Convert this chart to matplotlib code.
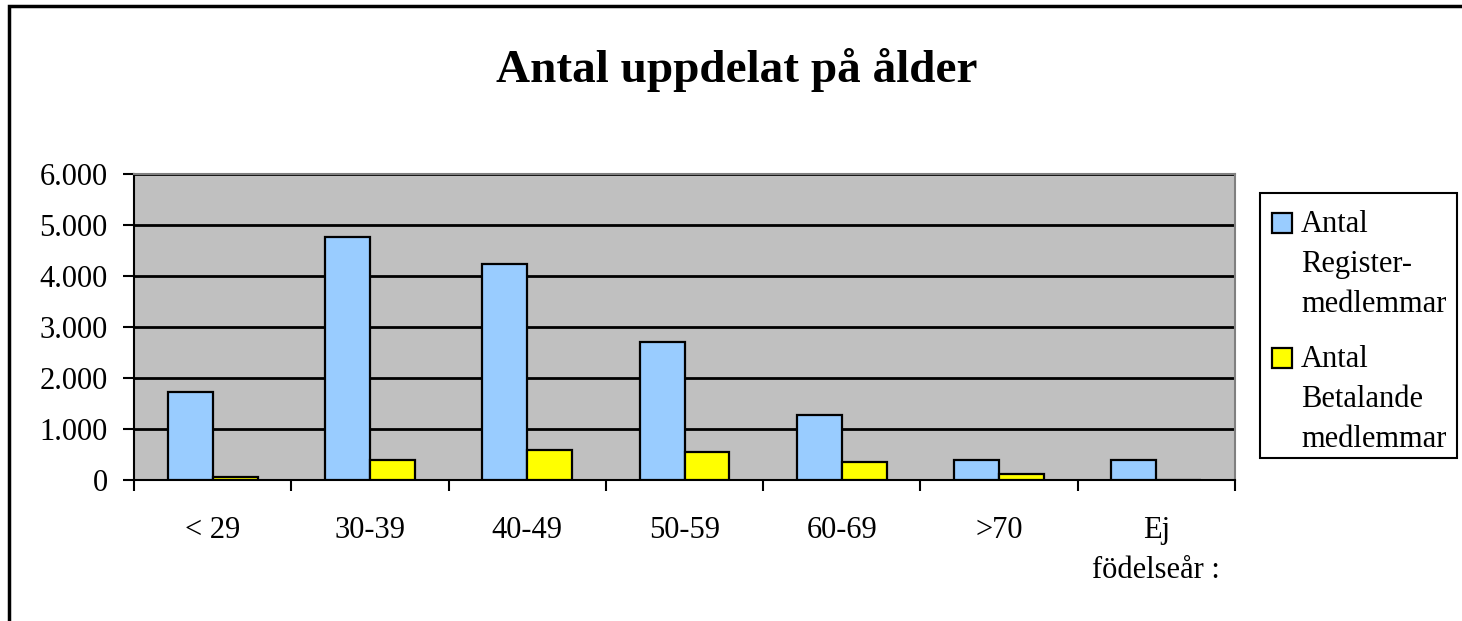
import matplotlib
matplotlib.use("Agg")
import matplotlib.pyplot as plt
import numpy as np
from matplotlib.patches import Rectangle
from matplotlib.legend_handler import HandlerPatch

categories = ["< 29", "30-39", "40-49", "50-59", "60-69", ">70", "Ej\nfödelseår :"]
register = [1720, 4770, 4230, 2700, 1280, 390, 390]
betalande = [50, 390, 590, 540, 350, 110, 0]
series_names = ["Antal\nRegister-\nmedlemmar", "Antal\nBetalande\nmedlemmar"]
yticks = [0, 1000, 2000, 3000, 4000, 5000, 6000]
ytick_labels = ["0", "1.000", "2.000", "3.000", "4.000", "5.000", "6.000"]
title = "Antal uppdelat på ålder"

plt.rcParams["font.family"] = ["Liberation Serif", "DejaVu Serif"]

W, H = 1462, 621
fig = plt.figure(figsize=(W / 100, H / 100), dpi=100)

# outer chart border (clipped at right/bottom)
fig.patches.append(Rectangle((9 / W, 0 - 0.05), 1.1, 1 - 6 / H + 0.05, transform=fig.transFigure,
                             fill=False, edgecolor="black", linewidth=2.5))

ax = fig.add_axes([134 / W, 1 - 480 / H, (1235 - 134) / W, (480 - 174) / H])
ax.set_facecolor("#c0c0c0")

x = np.arange(len(categories))
w = 1 / 3.5
b1 = ax.bar(x - w / 2, register, width=w, color="#99ccff", edgecolor="black", linewidth=1.6, zorder=3,
            label=series_names[0])
b2 = ax.bar(x + w / 2, betalande, width=w, color="#ffff00", edgecolor="black", linewidth=1.6, zorder=3,
            label=series_names[1])

ax.set_xlim(-0.5, len(categories) - 0.5)
ax.set_ylim(0, 6000)
ax.set_yticks(yticks)
ax.set_yticklabels(ytick_labels, fontsize=22)
ax.yaxis.grid(True, color="black", linewidth=2, zorder=1)
ax.set_axisbelow(True)

ax.set_xticks(np.arange(len(categories) + 1) - 0.5)
ax.set_xticklabels([])
ax.set_xticks(x, minor=True)
ax.set_xticklabels(categories, minor=True, fontsize=22, linespacing=1.5, va="top")
ax.tick_params(axis="x", which="minor", length=0, pad=26)
ax.tick_params(axis="x", which="major", length=8, width=1.5, direction="out")
ax.tick_params(axis="y", length=8, width=1.5, direction="out", pad=11)

for s in ["top", "right"]:
    ax.spines[s].set_color("#808080")
    ax.spines[s].set_linewidth(1.5)
for s in ["left", "bottom"]:
    ax.spines[s].set_color("black")
    ax.spines[s].set_linewidth(1.5)

fig.text(737 / W, 1 - 70 / H, title, ha="center", va="center", fontsize=34, fontweight="bold")

# legend: square handle aligned with the first text line
SQ = 14.4  # points (20 px)


def square_patch(legend, orig_handle, xdescent, ydescent, width, height, fontsize):
    return Rectangle((-xdescent, -ydescent + height - SQ - 2), SQ, SQ)


fs = 22
leg = fig.legend(handles=[b1.patches[0], b2.patches[0]], labels=series_names,
                 handler_map={Rectangle: HandlerPatch(patch_func=square_patch)},
                 loc="upper left", bbox_to_anchor=(1272 / W, 1 - 210 / H),
                 frameon=False, fontsize=fs, handlelength=SQ / fs, handleheight=20 / fs,
                 handletextpad=0.3, borderpad=0, labelspacing=0.85, borderaxespad=0)
for t in leg.get_texts():
    t.set_linespacing(1.5)
for col in leg._legend_handle_box.get_children():
    for item in col.get_children():
        item.align = "top"

fig.patches.append(Rectangle((1260 / W, 1 - 458 / H), (1457 - 1260) / W, (458 - 193) / H,
                             transform=fig.transFigure, fill=False, edgecolor="black", linewidth=1.5))

fig.savefig("out.png", dpi=100)
